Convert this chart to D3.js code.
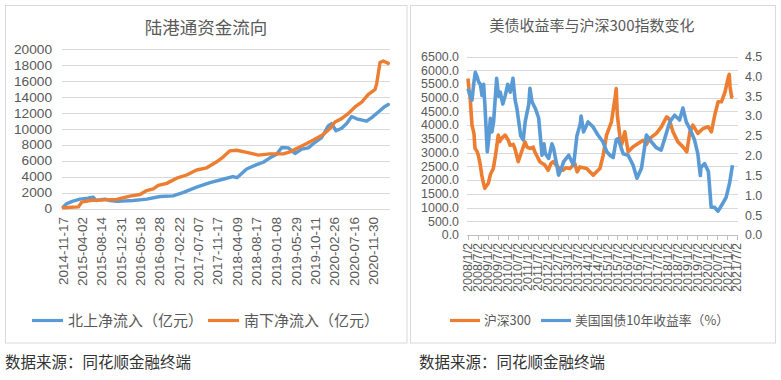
<!DOCTYPE html>
<html><head><meta charset="utf-8">
<script src="https://cdn.jsdelivr.net/npm/d3@7"></script>
<style>body{margin:0;background:#fff}svg{display:block}</style>
</head><body>
<svg id="c" width="781" height="380"></svg>
<script>
// ---------- Left chart data: 陆港通资金流向 ----------
const flowXTicks = ["2014-11-17","2015-04-02","2015-08-14","2015-12-31","2016-05-18","2016-09-28","2017-02-22","2017-07-07","2017-11-17","2018-04-09","2018-08-17","2019-01-08","2019-05-29","2019-10-11","2020-02-26","2020-07-16","2020-11-30"];
const flowYTicks = [0,2000,4000,6000,8000,10000,12000,14000,16000,18000,20000];
const northDates = ["2014-11-17","2014-12-10","2015-01-20","2015-03-16","2015-05-10","2015-06-18","2015-07-07","2015-09-09","2015-10-15","2015-12-02","2016-03-27","2016-07-02","2016-10-05","2017-01-05","2017-03-16","2017-06-22","2017-09-25","2017-12-26","2018-03-07","2018-04-05","2018-06-13","2018-08-23","2018-10-09","2018-11-26","2019-01-12","2019-02-17","2019-04-05","2019-05-23","2019-07-09","2019-08-25","2019-10-12","2019-11-28","2020-01-14","2020-02-07","2020-03-09","2020-04-18","2020-05-24","2020-06-28","2020-08-03","2020-10-13","2020-11-18","2021-01-04","2021-02-20","2021-03-16"];
const northValues = [200,600,900,1170,1300,1420,1000,1170,1000,900,1000,1170,1500,1580,2000,2670,3250,3670,4000,3860,4950,5500,5800,6350,6800,7650,7600,6900,7450,7600,8300,8900,10350,10650,9750,10060,10650,11540,11250,10950,11400,12100,12800,13050];
const southDates = ["2014-11-17","2015-03-04","2015-03-28","2015-05-26","2015-08-05","2015-12-02","2016-03-05","2016-05-15","2016-07-02","2016-08-18","2016-09-22","2016-11-21","2017-01-31","2017-04-12","2017-06-22","2017-09-02","2017-11-12","2017-12-29","2018-02-14","2018-04-03","2018-06-13","2018-09-03","2018-11-26","2019-02-28","2019-04-17","2019-06-03","2019-08-14","2019-09-30","2019-12-10","2020-01-26","2020-03-02","2020-04-18","2020-06-04","2020-07-22","2020-09-08","2020-10-25","2020-12-11","2020-12-23","2021-01-16","2021-02-08","2021-03-16"];
const southValues = [100,200,800,1000,1050,1150,1550,1750,2250,2450,2900,3150,3800,4200,4830,5100,5860,6480,7230,7300,7030,6700,6850,6850,7100,7530,8150,8580,9280,10030,10850,11270,11900,12730,13350,14300,14900,15630,18300,18500,18200];

// ---------- Right chart data: 美债收益率与沪深300指数变化 ----------
const rightXTicks = ["2008/1/2","2008/7/2","2009/1/2","2009/7/2","2010/1/2","2010/7/2","2011/1/2","2011/7/2","2012/1/2","2012/7/2","2013/1/2","2013/7/2","2014/1/2","2014/7/2","2015/1/2","2015/7/2","2016/1/2","2016/7/2","2017/1/2","2017/7/2","2018/1/2","2018/7/2","2019/1/2","2019/7/2","2020/1/2","2020/7/2","2021/1/2","2021/7/2"];
const csiYTicks = [0,500,1000,1500,2000,2500,3000,3500,4000,4500,5000,5500,6000,6500];
const ustYTicks = [0,0.5,1.0,1.5,2.0,2.5,3.0,3.5,4.0,4.5];
const csiDates = ["2008-01-02","2008-01-20","2008-02-10","2008-03-15","2008-04-20","2008-05-10","2008-06-15","2008-07-10","2008-08-10","2008-09-10","2008-10-10","2008-11-05","2008-12-10","2009-01-08","2009-02-15","2009-04-10","2009-05-20","2009-07-10","2009-08-05","2009-09-08","2009-11-12","2010-01-10","2010-02-10","2010-04-10","2010-05-10","2010-07-10","2010-09-10","2010-11-12","2010-12-20","2011-02-10","2011-04-10","2011-05-10","2011-08-10","2011-11-10","2012-01-10","2012-03-01","2012-04-10","2012-07-10","2012-10-12","2012-12-05","2013-02-12","2013-05-12","2013-06-25","2013-08-15","2013-12-15","2014-04-15","2014-08-15","2014-10-15","2014-12-15","2015-03-15","2015-05-20","2015-06-10","2015-07-01","2015-08-20","2015-09-20","2015-11-15","2016-01-15","2016-04-15","2016-07-15","2016-10-15","2016-12-15","2017-02-15","2017-06-15","2017-09-15","2017-12-20","2018-02-01","2018-04-15","2018-07-15","2018-10-15","2018-12-25","2019-02-20","2019-04-15","2019-07-15","2019-10-20","2020-01-20","2020-03-20","2020-05-20","2020-07-20","2020-09-20","2020-11-25","2021-01-25","2021-02-10","2021-02-25","2021-03-25","2021-04-20"];
const csiValues = [5700,5300,5000,4000,3700,3150,3050,2900,2600,2180,1900,1700,1800,1880,2200,2420,2900,3640,3400,3520,3640,3450,3270,3300,3150,2670,3030,3390,3200,3150,3200,3030,2670,2550,2360,2600,2670,2480,2360,2450,2420,2600,2300,2480,2420,2180,2420,2900,3640,4120,5000,5330,4360,3520,3300,3760,3030,3210,3330,3450,3300,3520,3700,3940,4300,4240,3760,3390,3210,3030,3760,4000,3700,3880,3940,3760,4360,4850,4850,5210,5760,5850,5390,5030,5000];
const ustDates = ["2008-01-02","2008-02-15","2008-03-15","2008-04-15","2008-05-15","2008-06-15","2008-07-15","2008-08-15","2008-09-15","2008-10-15","2008-11-10","2008-12-20","2009-01-15","2009-02-15","2009-03-15","2009-04-15","2009-06-10","2009-07-15","2009-08-15","2009-10-01","2009-11-15","2009-12-31","2010-02-15","2010-04-05","2010-05-15","2010-06-15","2010-08-25","2010-10-10","2010-11-15","2011-01-20","2011-02-10","2011-03-20","2011-05-20","2011-07-20","2011-09-20","2011-10-25","2011-11-20","2012-01-20","2012-03-20","2012-04-20","2012-07-20","2012-09-15","2012-10-20","2013-01-20","2013-04-20","2013-06-20","2013-08-20","2013-09-05","2013-10-20","2014-01-10","2014-04-10","2014-07-10","2014-10-10","2014-12-20","2015-02-15","2015-04-15","2015-06-10","2015-07-15","2015-10-15","2016-01-15","2016-04-15","2016-06-25","2016-09-15","2016-12-15","2017-03-15","2017-06-15","2017-09-10","2017-11-15","2018-02-15","2018-05-15","2018-08-15","2018-10-15","2018-12-15","2019-02-15","2019-05-15","2019-07-15","2019-08-30","2019-09-10","2019-11-15","2020-01-25","2020-03-15","2020-05-15","2020-07-20","2020-10-15","2020-12-15","2021-02-15","2021-04-10"];
const ustValues = [3.69,3.5,3.4,3.8,4.1,4.0,3.86,3.8,3.52,3.8,3.2,2.1,2.4,2.94,2.6,2.85,3.95,3.5,3.6,3.3,3.52,3.8,3.6,3.95,3.4,3.2,2.5,2.4,2.85,3.3,3.7,3.36,3.19,2.95,2.01,2.3,2.05,1.93,2.3,2.18,1.51,1.7,1.85,2.01,1.76,2.5,2.8,3.0,2.6,2.85,2.73,2.52,2.35,2.1,2.01,1.95,2.4,2.43,2.05,2.01,1.76,1.43,1.68,2.52,2.35,2.2,2.14,2.43,2.85,3.02,2.9,3.2,2.85,2.69,2.4,2.05,1.5,1.7,1.8,1.6,0.7,0.7,0.6,0.8,0.95,1.3,1.76];

// ---------- drawing ----------
const svg = d3.select("#c");
const BLUE = "#5B9BD5", ORANGE = "#ED7D31", GRID = "#D9D9D9", TXT = "#595959";
const NUMF = "'Liberation Sans','Noto Sans CJK SC',sans-serif";
const CJKF = "'Noto Sans CJK SC','Liberation Sans',sans-serif";
const pDash = d3.timeParse("%Y-%m-%d");
const pSlash = d3.timeParse("%Y/%m/%d");

// panel borders
svg.append("rect").attr("x",5.5).attr("y",5.5).attr("width",401.5).attr("height",337.5).attr("fill","none").attr("stroke",GRID);
svg.append("rect").attr("x",410.5).attr("y",5.5).attr("width",365).attr("height",337.5).attr("fill","none").attr("stroke",GRID);

// ===== Left chart =====
{
  const g = svg.append("g");
  const x = d3.scaleTime().domain([pDash("2014-11-17"), pDash("2021-03-16")]).range([63.3, 388.3]);
  const y = d3.scaleLinear().domain([0, 20000]).range([208.5, 49]);
  const gx0 = 62, gx1 = 390;
  g.selectAll("line.grid").data(flowYTicks).join("line")
    .attr("x1",gx0).attr("x2",gx1).attr("y1",d=>Math.round(y(d))+0.5).attr("y2",d=>Math.round(y(d))+0.5)
    .attr("stroke",GRID).attr("stroke-width",1);
  g.selectAll("text.yl").data(flowYTicks).join("text")
    .attr("x",52).attr("y",d=>y(d)).attr("dy","0.35em").attr("text-anchor","end")
    .attr("font-family",NUMF).attr("font-size","13.7px").attr("fill",TXT).text(d=>d);
  g.selectAll("text.xl").data(flowXTicks).join("text")
    .attr("transform",d=>`translate(${x(pDash(d))},217) rotate(-90)`)
    .attr("dy","0.35em").attr("text-anchor","end")
    .attr("font-family",NUMF).attr("font-size","13.5px").attr("fill",TXT).text(d=>d);
  const line = d3.line().x(d=>x(d[0])).y(d=>y(d[1]));
  const north = northDates.map((d,i)=>[pDash(d), northValues[i]]);
  const south = southDates.map((d,i)=>[pDash(d), southValues[i]]);
  g.append("path").attr("d",line(north)).attr("fill","none").attr("stroke",BLUE).attr("stroke-width",3.4).attr("stroke-linejoin","round").attr("stroke-linecap","round");
  g.append("path").attr("d",line(south)).attr("fill","none").attr("stroke",ORANGE).attr("stroke-width",3.4).attr("stroke-linejoin","round").attr("stroke-linecap","round");
  g.append("text").attr("x",206).attr("y",28).attr("dy","0.35em").attr("text-anchor","middle")
    .attr("font-family",CJKF).attr("font-size","17.5px").attr("fill",TXT).text("陆港通资金流向");
  const leg = [{c:BLUE,t:"北上净流入（亿元）",x:32},{c:ORANGE,t:"南下净流入（亿元）",x:208}];
  leg.forEach(l=>{
    g.append("line").attr("x1",l.x).attr("x2",l.x+31).attr("y1",320.5).attr("y2",320.5).attr("stroke",l.c).attr("stroke-width",3.2);
    g.append("text").attr("x",l.x+36).attr("y",320.5).attr("dy","0.35em").attr("font-family",CJKF).attr("font-size","15px").attr("fill",TXT).text(l.t);
  });
}

// ===== Right chart =====
{
  const g = svg.append("g");
  const x = d3.scaleTime().domain([pSlash("2008/1/2"), pSlash("2021/7/2")]).range([468, 737]);
  const yL = d3.scaleLinear().domain([0, 6500]).range([235, 56.5]);
  const yR = d3.scaleLinear().domain([0, 4.5]).range([235, 56.5]);
  const gx0 = 467, gx1 = 738;
  g.selectAll("line.grid").data(csiYTicks.slice(1)).join("line")
    .attr("x1",gx0).attr("x2",gx1).attr("y1",d=>Math.round(yL(d))+0.5).attr("y2",d=>Math.round(yL(d))+0.5)
    .attr("stroke",GRID).attr("stroke-width",1);
  g.append("line").attr("x1",gx0).attr("x2",gx1).attr("y1",235.5).attr("y2",235.5).attr("stroke","#BFBFBF");
  g.selectAll("line.tick").data(rightXTicks).join("line")
    .attr("x1",d=>Math.round(x(pSlash(d)))+0.5).attr("x2",d=>Math.round(x(pSlash(d)))+0.5)
    .attr("y1",235).attr("y2",240).attr("stroke","#BFBFBF");
  g.selectAll("text.yl").data(csiYTicks).join("text")
    .attr("x",459).attr("y",d=>yL(d)).attr("dy","0.35em").attr("text-anchor","end")
    .attr("font-family",NUMF).attr("font-size","12.4px").attr("fill",TXT).text(d=>d3.format(".1f")(d));
  g.selectAll("text.yr").data(ustYTicks).join("text")
    .attr("x",745).attr("y",d=>yR(d)).attr("dy","0.35em").attr("text-anchor","start")
    .attr("font-family",NUMF).attr("font-size","12.4px").attr("fill",TXT).text(d=>d3.format(".1f")(d));
  g.selectAll("text.xl").data(rightXTicks).join("text")
    .attr("transform",d=>`translate(${x(pSlash(d))},243) rotate(-90)`)
    .attr("dy","0.35em").attr("text-anchor","end")
    .attr("font-family",NUMF).attr("font-size","12.6px").attr("fill",TXT).text(d=>d);
  const csi = csiDates.map((d,i)=>[pDash(d), csiValues[i]]);
  const ust = ustDates.map((d,i)=>[pDash(d), ustValues[i]]);
  g.append("path").attr("d",d3.line().x(d=>x(d[0])).y(d=>yL(d[1]))(csi)).attr("fill","none").attr("stroke",ORANGE).attr("stroke-width",3.6).attr("stroke-linejoin","round");
  g.append("path").attr("d",d3.line().x(d=>x(d[0])).y(d=>yR(d[1]))(ust)).attr("fill","none").attr("stroke",BLUE).attr("stroke-width",3.6).attr("stroke-linejoin","round");
  g.append("text").attr("x",592).attr("y",26).attr("dy","0.35em").attr("text-anchor","middle")
    .attr("font-family",CJKF).attr("font-size","15px").attr("fill",TXT).text("美债收益率与沪深300指数变化");
  const leg = [{c:ORANGE,t:"沪深300",x:450},{c:BLUE,t:"美国国债10年收益率（%）",x:541}];
  leg.forEach(l=>{
    g.append("line").attr("x1",l.x).attr("x2",l.x+30).attr("y1",320.5).attr("y2",320.5).attr("stroke",l.c).attr("stroke-width",3.2);
    g.append("text").attr("x",l.x+34).attr("y",320.5).attr("dy","0.35em").attr("font-family",CJKF).attr("font-size","12.8px").attr("fill",TXT).text(l.t);
  });
}

// footers
[5, 419].forEach(fx=>{
  svg.append("text").attr("x",fx).attr("y",363).attr("dy","0.35em").attr("font-family",CJKF).attr("font-size","15.5px").attr("fill","#333").text("数据来源：同花顺金融终端");
});
</script>
</body></html>
